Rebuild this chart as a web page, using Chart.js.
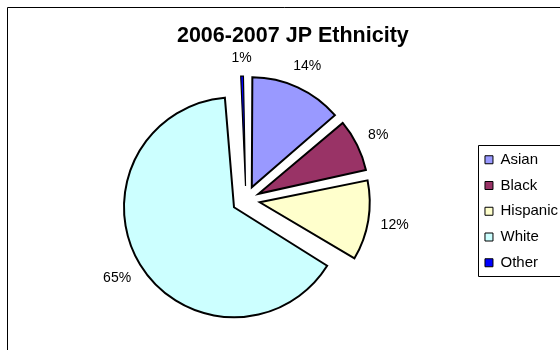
<!DOCTYPE html>
<html><head><meta charset="utf-8">
<script src="https://cdn.jsdelivr.net/npm/chart.js@4.4.1/dist/chart.umd.min.js"></script>
<style>
html,body{margin:0;padding:0;background:#fff;overflow:hidden;width:560px;height:350px;}
#c{position:absolute;left:0;top:0;display:block;}
</style></head><body>
<canvas id="c" width="560" height="350"></canvas>
<script>
// ---- data ----
const categories = ['Asian', 'Black', 'Hispanic', 'White', 'Other'];
const shares = [13.7, 8.0, 11.9, 65.4, 1.0];
const sliceColors = ['#9999FF', '#993366', '#FFFFCC', '#CCFFFF', '#0000FF'];
const chartTitle = '2006-2007 JP Ethnicity';

const FONT = '"Liberation Sans", Arial, Helvetica, sans-serif';
const OFFSET_DIV = parseInt(Chart.version, 10) >= 4 ? 4 : 1;

// outer chart frame (its right and bottom sides lie past the window)
const frame = {
  id: 'frame',
  beforeDraw(chart) {
    const ctx = chart.ctx;
    ctx.save();
    ctx.fillStyle = '#fff';
    ctx.fillRect(0, 0, chart.width, chart.height);
    ctx.strokeStyle = '#000';
    ctx.lineWidth = 1;
    ctx.beginPath();
    ctx.moveTo(7.5, chart.height + 2);
    ctx.lineTo(7.5, 7.5);
    ctx.lineTo(chart.width + 2, 7.5);
    ctx.stroke();
    ctx.restore();
  }
};

// keep every exploded slice at the same radius
const explodeFix = {
  id: 'explodeFix',
  afterDatasetsUpdate(chart) {
    chart.getDatasetMeta(0).data.forEach(arc => {
      const off = (arc.options.offset || 0) / OFFSET_DIV;
      const fix = 1 - Math.sin(Math.min(Math.PI, arc.circumference));
      arc.outerRadius = Math.max(arc.outerRadius - off * fix, 0);
    });
  }
};

// percentage labels outside each slice
const pctLabels = {
  id: 'pctLabels',
  afterDatasetsDraw(chart) {
    const ctx = chart.ctx;
    const meta = chart.getDatasetMeta(0);
    const vals = chart.data.datasets[0].data;
    const total = vals.reduce((a, b) => a + b, 0);
    ctx.save();
    ctx.font = '14px ' + FONT;
    ctx.fillStyle = '#000';
    ctx.textAlign = 'center';
    ctx.textBaseline = 'middle';
    meta.data.forEach((arc, i) => {
      const mid = (arc.startAngle + arc.endAngle) / 2;
      const off = (arc.options.offset || 0) / OFFSET_DIV;
      const fix = 1 - Math.sin(Math.min(Math.PI, arc.circumference));
      const r = arc.outerRadius + off * fix + 1;
      const cx = arc.x + Math.cos(mid) * off;
      const cy = arc.y + Math.sin(mid) * off;
      const txt = Math.round(vals[i] / total * 100) + '%';
      const w = ctx.measureText(txt).width, h = 11;
      const d = r + 11 + Math.abs(Math.cos(mid)) * w / 2 + Math.abs(Math.sin(mid)) * h / 2;
      ctx.fillText(txt, cx + Math.cos(mid) * d, cy + Math.sin(mid) * d);
    });
    ctx.restore();
  }
};

// legend frame: left, top and bottom sides (right side lies past the window)
const legendFrame = {
  id: 'legendFrame',
  afterDraw(chart) {
    const lg = chart.legend;
    const hb = lg && lg.legendHitBoxes;
    if (!hb || !hb.length) return;
    const ctx = chart.ctx;
    const first = hb[0], last = hb[hb.length - 1];
    const x = Math.round(first.left - 7) + 0.5;
    const y = Math.round(first.top - 7) + 0.5;
    const b = Math.round(last.top + last.height + 6) + 0.5;
    ctx.save();
    ctx.strokeStyle = '#000';
    ctx.lineWidth = 1;
    ctx.beginPath();
    ctx.moveTo(chart.width + 2, y); ctx.lineTo(x, y);
    ctx.lineTo(x, b); ctx.lineTo(chart.width + 2, b);
    ctx.stroke();
    ctx.restore();
  }
};

new Chart(document.getElementById('c'), {
  type: 'pie',
  data: {
    labels: categories,
    datasets: [{
      data: shares,
      backgroundColor: sliceColors,
      borderColor: '#000',
      borderWidth: [2, 2, 2, 2, 1.2],
      borderJoinStyle: 'miter',
      offset: 56,
      hoverOffset: 0,
      radius: 110
    }]
  },
  options: {
    responsive: false,
    devicePixelRatio: 1,
    animation: false,
    events: [],
    layout: { padding: { left: 17.7, right: -8, top: 0, bottom: 69 } },
    plugins: {
      title: {
        display: true,
        text: chartTitle,
        color: '#000',
        font: { family: FONT, size: 21.5, weight: 'bold' },
        padding: { top: 23, bottom: 70.2 }
      },
      legend: {
        display: true,
        position: 'right',
        align: 'end',
        fullSize: false,
        labels: {
          boxWidth: 8,
          boxHeight: 8,
          padding: 10.75,
          color: '#000',
          font: { family: FONT, size: 15 },
          generateLabels(chart) {
            const items = Chart.overrides.pie.plugins.legend.labels.generateLabels(chart);
            items.forEach(it => { it.lineWidth = 1; it.strokeStyle = '#000'; });
            return items;
          }
        }
      },
      tooltip: { enabled: false }
    }
  },
  plugins: [frame, explodeFix, pctLabels, legendFrame]
});
</script>
</body></html>
